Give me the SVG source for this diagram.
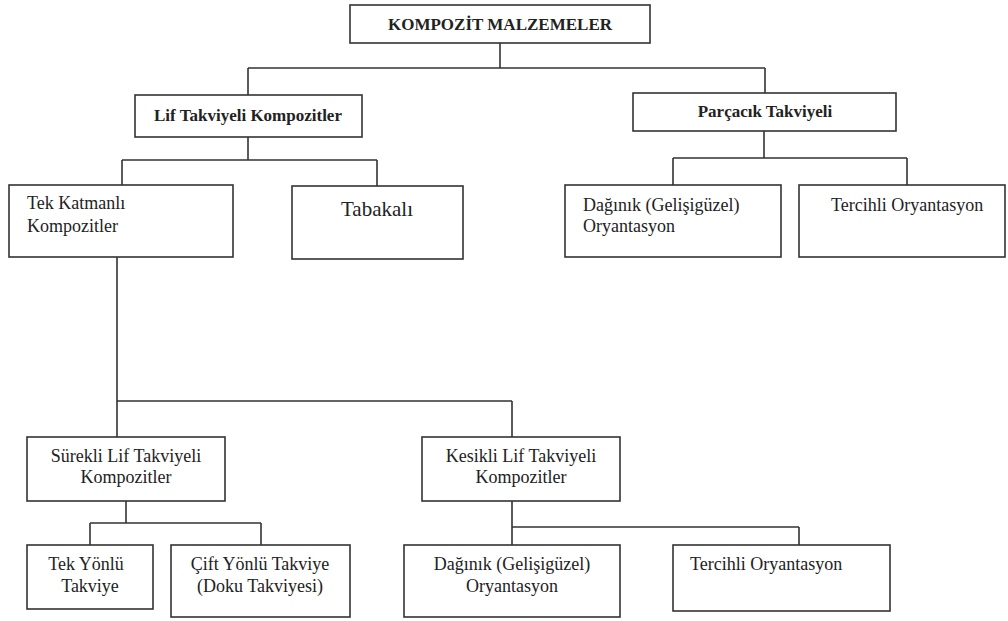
<svg xmlns="http://www.w3.org/2000/svg" width="1008" height="621" viewBox="0 0 1008 621">
<style>
rect{fill:#fff;stroke:#333;stroke-width:1.6}
.c path{fill:none;stroke:#333;stroke-width:1.6}
text{font-family:"Liberation Serif","Times New Roman",serif;font-size:18px;fill:#222}
.b{font-weight:bold;font-size:17px}
.m{text-anchor:middle}
</style>
<rect x="0" y="0" width="1008" height="621" style="stroke:none"/>
<g class="c">
<path d="M500 43V68M248 68H765M248 68V95M765 68V93"/>
<path d="M248 137V160M122 160H377M122 160V185M377 160V186"/>
<path d="M764 131V158M673 158H907M673 158V185M907 158V185"/>
<path d="M117 257V401M117 401H512M117 401V437M512 401V437"/>
<path d="M126 501V523M90 523H261M90 523V545M261 523V545"/>
<path d="M512 501V545M512 527H799M799 527V545"/>
</g>
<g id="kompozit"><rect x="350" y="5" width="300" height="38"/><text class="b m" x="500" y="30">KOMPOZİT MALZEMELER</text></g>
<g id="lif"><rect x="135" y="95" width="227" height="42"/><text class="b m" x="248" y="121">Lif Takviyeli Kompozitler</text></g>
<g id="parcacik"><rect x="633" y="93" width="263" height="38"/><text class="b m" x="765" y="117">Parçacık Takviyeli</text></g>
<g id="tek-katmanli"><rect x="9" y="185" width="224" height="72"/><text x="27" y="209">Tek Katmanlı</text><text x="27" y="232">Kompozitler</text></g>
<g id="tabakali"><rect x="292" y="186" width="171" height="73"/><text class="m" x="377" y="216" style="font-size:21px">Tabakalı</text></g>
<g id="daginik1"><rect x="565" y="185" width="216" height="72"/><text x="583" y="211">Dağınık (Gelişigüzel)</text><text x="583" y="232">Oryantasyon</text></g>
<g id="tercihli1"><rect x="799" y="185" width="206" height="72"/><text x="831" y="211">Tercihli Oryantasyon</text></g>
<g id="surekli"><rect x="27" y="437" width="198" height="64"/><text class="m" x="126" y="462">Sürekli Lif Takviyeli</text><text class="m" x="126" y="483">Kompozitler</text></g>
<g id="kesikli"><rect x="422" y="437" width="198" height="64"/><text class="m" x="521" y="462">Kesikli Lif Takviyeli</text><text class="m" x="521" y="483">Kompozitler</text></g>
<g id="tek-yonlu"><rect x="27" y="545" width="126" height="64"/><text class="m" x="86" y="570">Tek Yönlü</text><text class="m" x="90" y="592">Takviye</text></g>
<g id="cift-yonlu"><rect x="171" y="545" width="179" height="72"/><text class="m" x="260" y="570">Çift Yönlü Takviye</text><text class="m" x="260" y="592">(Doku Takviyesi)</text></g>
<g id="daginik2"><rect x="404" y="545" width="216" height="72"/><text class="m" x="512" y="570">Dağınık (Gelişigüzel)</text><text class="m" x="512" y="592">Oryantasyon</text></g>
<g id="tercihli2"><rect x="673" y="545" width="217" height="66"/><text x="690" y="570">Tercihli Oryantasyon</text></g>
</svg>
